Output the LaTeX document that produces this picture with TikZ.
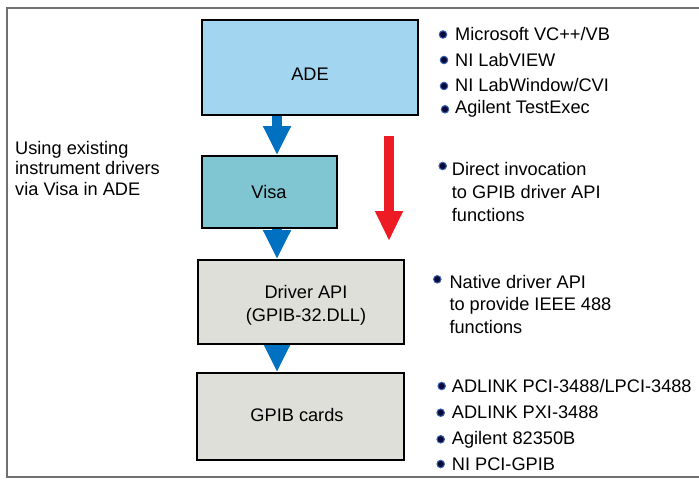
\documentclass[tikz,border=0pt]{standalone}
\usepackage{fontspec}
\setmainfont{Liberation Sans}
\usetikzlibrary{arrows.meta,calc,backgrounds}
\definecolor{adeblue}{HTML}{A2D5F0}
\definecolor{visablue}{HTML}{80C6D2}
\definecolor{boxgray}{HTML}{DFDFD9}
\definecolor{arrowblue}{HTML}{0070C0}
\definecolor{arrowred}{HTML}{ED1C24}
\definecolor{framegray}{HTML}{707070}
\definecolor{bulletfill}{HTML}{0A0A3A}
\definecolor{bulletring}{HTML}{3A5FB0}
\tikzset{
  box/.style={draw=black, line width=1.7pt, rectangle, inner sep=0pt},
  txt/.style={inner sep=0pt, font=\fontsize{18.2}{22.5}\selectfont},
  bul/.style={circle, inner sep=0pt, minimum size=7.5pt, fill=bulletfill, draw=bulletring, line width=1pt},
  bluearrow/.style={draw=arrowblue, line width=10pt, -{Triangle[width=26pt,length=29pt]}},
  redarrow/.style={draw=arrowred, line width=10pt, -{Triangle[width=26pt,length=30pt]}}
}
\begin{document}
\begin{tikzpicture}[x=1pt,y=-1pt]
\useasboundingbox (0,0) rectangle (699,480);
\draw[framegray, line width=2pt] (705,7.5) -- (6.5,7.5) -- (6.5,477) -- (705,477);

% boxes
\node[box, fill=adeblue, minimum width=216pt, minimum height=95pt] (ade) at (310,67.5) {};
\node[box, fill=visablue, minimum width=135pt, minimum height=72pt] (visa) at (269.5,192) {};
\node[box, fill=boxgray, minimum width=206pt, minimum height=84pt] (drv) at (301,302) {};
\node[box, fill=boxgray, minimum width=207pt, minimum height=87pt] (gpib) at (300.5,416.5) {};

% box labels
\node[txt, anchor=base] (adelbl) at (310,80) {ADE};
\node[txt, anchor=base] (visalbl) at (269,198.3) {Visa};
\node[txt, anchor=north, align=center] (drvlbl) at (306,285.2) {Driver API\\(GPIB-32.DLL)};
\node[txt, anchor=base] (gpiblbl) at (297,421) {GPIB cards};

% connectors
\coordinate (col) at (277,0);
\begin{pgfonlayer}{background}
\fill[white] (0,0) rectangle (699,480);
\draw[bluearrow] (ade.south -| col) -- (visa.north -| col);
\draw[bluearrow] (visa.south -| col) -- (drv.north -| col);
\draw[bluearrow] (drv.south -| col) -- (gpib.north -| col);
\end{pgfonlayer}
\coordinate (rtop) at (389,136);
\coordinate (rtip) at (389,241);
\draw[redarrow] (rtop) -- (rtip);

% left note
\node[txt, anchor=north west, align=left, font=\fontsize{18.2}{20.7}\selectfont] (note) at (15,140.7) {Using existing\\instrument drivers\\via Visa in ADE};

% list 1
\node[bul] (b1) at (443,34.5) {};
\node[txt, anchor=base west] (t1) at (455,40.7) {Microsoft VC++/VB};
\node[bul] (b2) at (444,60) {};
\node[txt, anchor=base west] (t2) at (455,66) {NI LabVIEW};
\node[bul] (b3) at (444,86) {};
\node[txt, anchor=base west] (t3) at (455,91.7) {NI LabWindow/CVI};
\node[bul] (b4) at (445,109.3) {};
\node[txt, anchor=base west] (t4) at (455,113.3) {Agilent TestExec};

% list 2
\node[bul] (b5) at (442.7,166) {};
\node[txt, anchor=north west, align=left, font=\fontsize{18.2}{23}\selectfont] (t5) at (451.7,161.7) {Direct invocation\\to GPIB driver API\\functions};

% list 3
\node[bul] (b6) at (437.3,279.3) {};
\node[txt, anchor=north west, align=left, font=\fontsize{18.2}{22.5}\selectfont] (t6) at (449.3,275) {Native driver API\\to provide IEEE 488\\functions};

% list 4
\node[bul] (b7) at (441.7,386) {};
\node[txt, anchor=base west] (t7) at (451.7,392.7) {ADLINK PCI-3488/LPCI-3488};
\node[bul] (b8) at (440.7,412.7) {};
\node[txt, anchor=base west] (t8) at (451.7,418.3) {ADLINK PXI-3488};
\node[bul] (b9) at (440.7,439.3) {};
\node[txt, anchor=base west] (t9) at (451.7,444) {Agilent 82350B};
\node[bul] (b10) at (440.7,464) {};
\node[txt, anchor=base west] (t10) at (451.7,470) {NI PCI-GPIB};
\end{tikzpicture}
\end{document}
